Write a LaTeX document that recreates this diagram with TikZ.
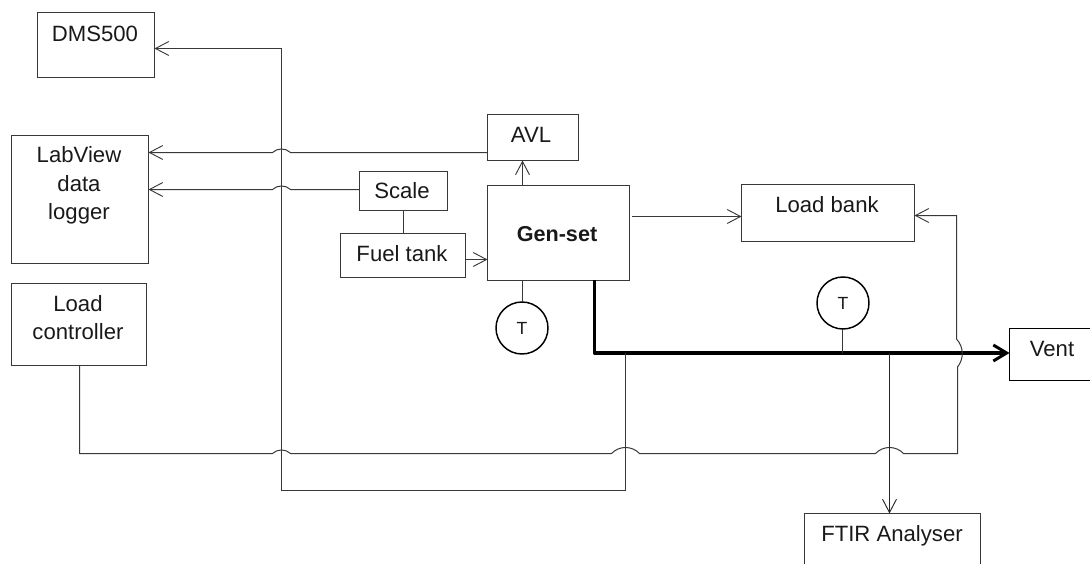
\documentclass[tikz,border=0pt]{standalone}
\usepackage{fontspec}
\setmainfont{Liberation Sans}
\usetikzlibrary{arrows.meta,calc,fit}
\definecolor{ln}{gray}{0.22}
\definecolor{tx}{gray}{0.1}
\newcommand{\hhop}[3]{-- ($(#1)+(#2,0)$) .. controls ($(#1)+(0.45*#2,-#3)$) and ($(#1)+(-0.45*#2,-#3)$) .. ($(#1)+(-#2,0)$)}
\tikzset{
  box/.style={draw=ln,line width=0.8pt,inner sep=0pt,outer sep=0pt},
  lbl/.style={text=tx,inner sep=0pt,outer sep=0pt,anchor=base,align=center,font=\fontsize{16.6}{21.4}\selectfont},
  wire/.style={draw=ln,line width=0.75pt},
  flow/.style={wire,-{Straight Barb[length=10pt,width=10.5pt,line width=0.7pt]}},
  exhaust/.style={draw=black,line width=2.6pt,line join=round,-{Straight Barb[length=10pt,width=12pt,line width=2.2pt]}},
  tcirc/.style={circle,draw=black,line width=1.1pt,minimum size=39pt,inner sep=0pt,outer sep=0pt,text=tx,font=\fontsize{13.2}{15}\selectfont},
}
\begin{document}
\begin{tikzpicture}[x=0.75pt,y=-0.75pt]
\useasboundingbox (0,0) rectangle (1090,564);
\clip (0,0) rectangle (1090,564);
% boxes
\node[box,fit={(37.5,12.5)(154.5,77.5)}] (dms) {};
\node[box,fit={(11.5,135.5)(148.5,263.5)}] (lab) {};
\node[box,fit={(11.5,283.5)(146.5,365.5)}] (lc) {};
\node[box,fit={(487.5,114.5)(578.5,160.5)}] (avl) {};
\node[box,fit={(359.5,171.5)(447.5,210.5)}] (scale) {};
\node[box,fit={(340.5,233.5)(465.5,277.5)}] (fuel) {};
\node[box,fit={(487.5,185.5)(629.5,280.5)}] (gen) {};
\node[box,fit={(741.5,184.5)(914.5,241.5)}] (load) {};
\node[box,draw=black,fit={(1009.5,328.5)(1100,380.5)}] (vent) {};
\node[box,fit={(804.5,513.5)(980.5,580)}] (ftir) {};
\node[tcirc] (t1) at (522,328) {T};
\node[tcirc] (t2) at (843,303) {T};
% labels
\node[lbl] (ldms) at (95,41) {DMS500};
\node[lbl] (llab1) at (79,162) {LabView};
\node[lbl] (llab2) at (79,191) {data};
\node[lbl] (llab3) at (79,219) {logger};
\node[lbl] (llc1) at (78,311) {Load};
\node[lbl] (llc2) at (78,339) {controller};
\node[lbl] (lavl) at (531,142) {AVL};
\node[lbl] (lscale) at (402,198) {Scale};
\node[lbl] (lfuel) at (402,261) {Fuel tank};
\node[lbl,font=\fontsize{16.2}{20}\selectfont\bfseries] (lgen) at (557,241) {Gen-set};
\node[lbl] (lload) at (827,212) {Load bank};
\node[lbl] (lvent) at (1052,356) {Vent};
\node[lbl] (lftir) at (892,541) {FTIR Analyser};
% junction coordinates
\coordinate (busTop) at (281.5,48.5);
\coordinate (busBot) at (281.5,490.5);
\coordinate (tapA) at (625.5,353);
\coordinate (tapB) at (889.5,353);
\coordinate (tapT) at (842.5,353);
\coordinate (exOut) at (594.5,280);
\coordinate (exBend) at (594.5,353);
\coordinate (lcBot) at (79.5,453.5);
\coordinate (retBot) at (957.5,453.5);
\coordinate (retTop) at (956.5,215.5);
\coordinate (avlOut) at (487,152.5);
\coordinate (scaleOut) at (359,189.5);
\coordinate (fuelOut) at (465,259.5);
\coordinate (genAvl) at (522.5,181);
\coordinate (genLoadS) at (632,216.5);
% crossings
\coordinate (x1) at (281.5,152.5);
\coordinate (x2) at (281.5,189.5);
\coordinate (x3) at (281.5,453.5);
\coordinate (x4) at (625.5,453.5);
\coordinate (x5) at (889.5,453.5);
\coordinate (x6) at (957,353);
% exhaust
\draw[exhaust] (exOut) -- (exBend) -- (vent.west |- exBend);
% sampling line to DMS500
\draw[flow] (tapA) -- (x4) -- (tapA |- busBot) -- (busBot) -- (busTop) -- (dms.east |- busTop);
% data lines
\draw[flow] (avlOut) \hhop{x1}{9}{4.7} -- (lab.east |- x1);
\draw[flow] (scaleOut) \hhop{x2}{9}{4.7} -- (lab.east |- x2);
% load control line
\draw[flow] (lc.south -| lcBot) -- (lcBot) \hhop{x3}{-9}{4.7} \hhop{x4}{-14}{8} \hhop{x5}{-14}{8} -- (retBot)
  -- ($(x6)+(0.5,14)$) .. controls ($(x6)+(7,6)$) and ($(x6)+(7,-6)$) .. ($(x6)+(-0.5,-14)$)
  -- (retTop) -- (load.east |- retTop);
% simple links
\draw[wire] (scale.south -| fuel.north) -- (fuel.north);
\draw[flow] (fuelOut) -- (gen.west |- fuelOut);
\draw[flow] (gen.north -| genAvl) -- (avl.south -| genAvl);
\draw[flow] (genLoadS) -- (load.west |- genLoadS);
\draw[wire] (gen.south -| t1) -- (t1.north);
\draw[wire] (t2.south -| tapT) -- (tapT);
\draw[flow,draw=black!85] (tapB) -- (ftir.north -| tapB);
\end{tikzpicture}
\end{document}
